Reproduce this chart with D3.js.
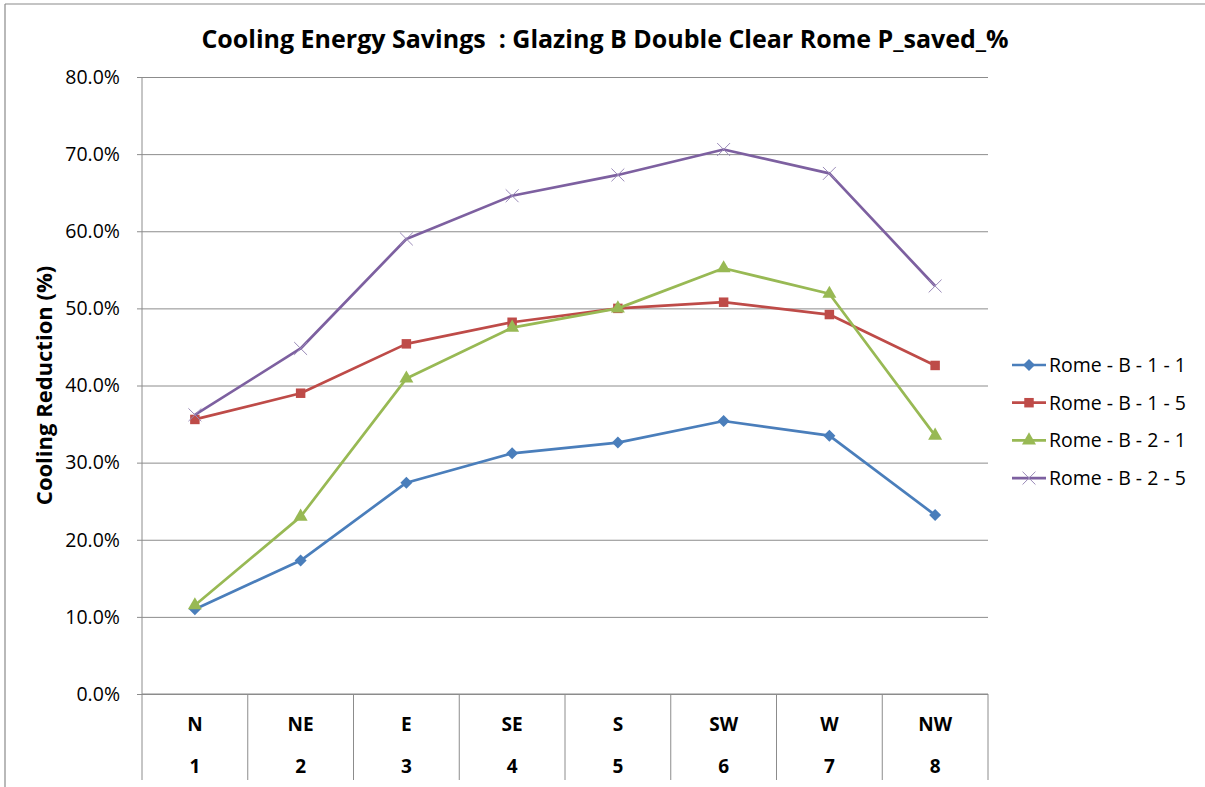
<!DOCTYPE html>
<html lang="en">
<head>
<meta charset="UTF-8" />
<title>Cooling Energy Savings</title>
<script src="https://cdnjs.cloudflare.com/ajax/libs/d3/7.8.5/d3.min.js"></script>
<style>
  body { margin: 0; background: #fff; font-family: 'Open Sans', sans-serif; }
  svg { display: block; }
  text { fill: #000; font-family: 'Open Sans', sans-serif; }
  .title { font-size: 25px; font-weight: 700; white-space: pre; }
  .ylabel { font-size: 22px; font-weight: 700; }
  .cat { font-size: 19px; font-weight: 700; }
  .legend text { font-size: 19.5px; }
</style>
</head>
<body>
<svg width="1205" height="787"></svg>
<script>
  // categories (two-level axis)
  const directions = ['N', 'NE', 'E', 'SE', 'S', 'SW', 'W', 'NW'];
  const numbers = ['1', '2', '3', '4', '5', '6', '7', '8'];

  // series values in %
  const rome_B_1_1 = [11.0, 17.3, 27.4, 31.2, 32.6, 35.4, 33.5, 23.2];
  const rome_B_1_5 = [35.6, 39.0, 45.4, 48.2, 50.0, 50.8, 49.2, 42.6];
  const rome_B_2_1 = [11.5, 23.0, 40.9, 47.5, 50.0, 55.2, 51.9, 33.5];
  const rome_B_2_5 = [36.2, 44.8, 59.0, 64.6, 67.3, 70.6, 67.5, 52.9];

  const seriesNames = ['Rome - B - 1 - 1', 'Rome - B - 1 - 5', 'Rome - B - 2 - 1', 'Rome - B - 2 - 5'];
  const yTicks = [0, 10, 20, 30, 40, 50, 60, 70, 80];

  const series = [
    { name: seriesNames[0], values: rome_B_1_1, color: '#4A7EBB', marker: 'diamond' },
    { name: seriesNames[1], values: rome_B_1_5, color: '#BE4B48', marker: 'square' },
    { name: seriesNames[2], values: rome_B_2_1, color: '#98B954', marker: 'triangle' },
    { name: seriesNames[3], values: rome_B_2_5, color: '#7D60A0', marker: 'cross' }
  ];

  const svg = d3.select('svg');

  // outer frame (top + left visible)
  svg.append('line').attr('x1', 5).attr('y1', 4).attr('x2', 1205).attr('y2', 4)
    .attr('stroke', '#8a8a8a').attr('stroke-width', 1.2);
  svg.append('line').attr('x1', 5).attr('y1', 4).attr('x2', 5).attr('y2', 787)
    .attr('stroke', '#8a8a8a').attr('stroke-width', 1.2);

  const plot = { left: 142, right: 988, top: 77, bottom: 694 };

  const x = d3.scaleBand()
    .domain(directions)
    .range([plot.left, plot.right]);

  const y = d3.scaleLinear()
    .domain([0, 80])
    .range([plot.bottom, plot.top]);

  // horizontal gridlines
  svg.append('g')
    .attr('transform', `translate(${plot.left},0)`)
    .call(d3.axisLeft(y).tickValues(yTicks).tickSize(-(plot.right - plot.left)).tickFormat(''))
    .call(g => g.select('.domain').remove())
    .call(g => g.selectAll('.tick line').attr('stroke', '#8c8c8c').attr('stroke-width', 1));

  // y axis with outer ticks
  const yAxis = svg.append('g')
    .attr('transform', `translate(${plot.left},0)`)
    .call(d3.axisLeft(y).tickValues(yTicks).tickSize(5).tickPadding(17)
      .tickFormat(d => d.toFixed(1) + '%'));
  yAxis.attr('font-family', null).attr('font-size', null);
  yAxis.select('.domain').attr('stroke', '#8c8c8c').attr('d', `M0,${plot.top}V${plot.bottom}`);
  yAxis.selectAll('.tick line').attr('stroke', '#8c8c8c');
  yAxis.selectAll('.tick text')
    .style('font-size', '19.5px').attr('fill', '#000');

  // category area: bottom axis line and separators
  const catBottom = 780;
  svg.append('line')
    .attr('x1', plot.left).attr('x2', plot.right)
    .attr('y1', plot.bottom).attr('y2', plot.bottom)
    .attr('stroke', '#8c8c8c');
  const seps = directions.map(d => x(d)).concat([plot.right]);
  svg.append('g').selectAll('line')
    .data(seps)
    .join('line')
    .attr('x1', d => d).attr('x2', d => d)
    .attr('y1', plot.bottom).attr('y2', catBottom)
    .attr('stroke', '#8c8c8c');

  svg.append('g').selectAll('text')
    .data(directions)
    .join('text')
    .attr('class', 'cat')
    .attr('x', d => x(d) + x.bandwidth() / 2)
    .attr('y', 731)
    .attr('text-anchor', 'middle')
    .text(d => d);

  svg.append('g').selectAll('text')
    .data(numbers)
    .join('text')
    .attr('class', 'cat')
    .attr('x', (d, i) => x(directions[i]) + x.bandwidth() / 2)
    .attr('y', 773)
    .attr('text-anchor', 'middle')
    .text(d => d);

  // markers
  const diamond = () => 'M0,-6L6,0L0,6L-6,0Z';
  const symbolFor = {
    diamond: diamond,
    square: d3.symbol().type(d3.symbolSquare).size(90),
    triangle: d3.symbol().type(d3.symbolTriangle).size(85),
    cross: d3.symbol().type(d3.symbolX).size(110)
  };

  const line = d3.line()
    .x((d, i) => x(directions[i]) + x.bandwidth() / 2)
    .y(d => y(d));

  series.forEach(s => {
    svg.append('path')
      .datum(s.values)
      .attr('fill', 'none')
      .attr('stroke', s.color)
      .attr('stroke-width', 2.7)
      .attr('stroke-linejoin', 'round')
      .attr('d', line);

    svg.append('g').selectAll('path')
      .data(s.values)
      .join('path')
      .attr('transform', (d, i) => `translate(${x(directions[i]) + x.bandwidth() / 2},${y(d)})`)
      .attr('d', symbolFor[s.marker]())
      .attr('fill', s.marker === 'cross' ? 'none' : s.color)
      .attr('stroke', s.marker === 'cross' ? '#9a8ab8' : 'none')
      .attr('stroke-width', 1);
  });

  // title
  svg.append('text')
    .attr('class', 'title')
    .attr('x', 605)
    .attr('y', 48)
    .attr('text-anchor', 'middle')
    .text('Cooling Energy Savings  : Glazing B Double Clear Rome P_saved_%');

  // y axis label
  svg.append('text')
    .attr('class', 'ylabel')
    .attr('transform', `translate(52,${(plot.top + plot.bottom) / 2}) rotate(-90)`)
    .attr('text-anchor', 'middle')
    .text('Cooling Reduction (%)');

  // legend
  const legend = svg.append('g').attr('class', 'legend');
  const lg = legend.selectAll('g')
    .data(series)
    .join('g')
    .attr('transform', (d, i) => `translate(1012,${365 + i * 37.7})`);
  lg.append('line')
    .attr('x1', 0).attr('x2', 34)
    .attr('stroke', d => d.color).attr('stroke-width', 2.7);
  lg.append('path')
    .attr('transform', 'translate(17,0)')
    .attr('d', d => symbolFor[d.marker]())
    .attr('fill', d => d.marker === 'cross' ? 'none' : d.color)
    .attr('stroke', d => d.marker === 'cross' ? '#9a8ab8' : 'none');
  lg.append('text')
    .attr('x', 37)
    .attr('y', 7)
    .text(d => d.name);
</script>
</body>
</html>
